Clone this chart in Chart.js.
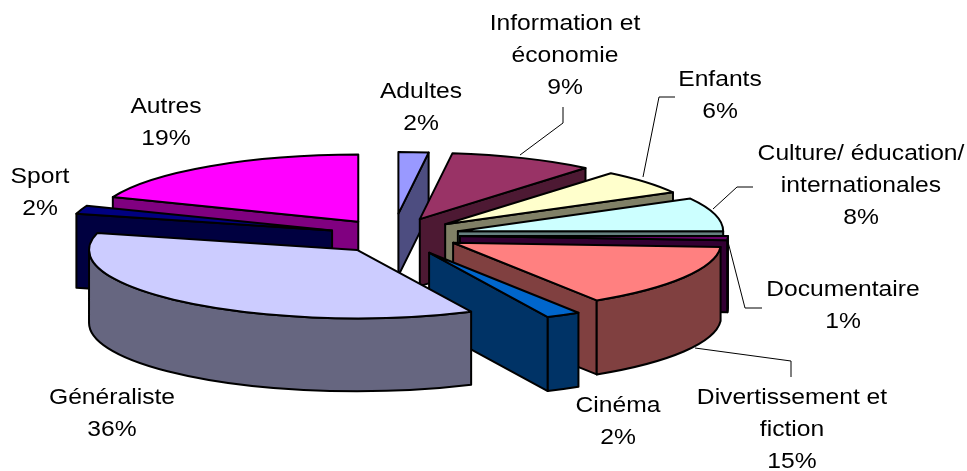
<!DOCTYPE html>
<html><head><meta charset="utf-8">
<style>html,body{margin:0;padding:0;background:#fff}#w{width:967px;height:471px}</style>
<script src="https://cdn.jsdelivr.net/npm/chart.js@4"></script></head>
<body><div id="w"><canvas id="c"></canvas></div>
<script>
const categories = ["Adultes","Information et économie","Enfants","Culture/ éducation/ internationales","Documentaire","Divertissement et fiction","Cinéma","Généraliste","Sport","Autres"];
const values = [2,9,6,8,1,15,2,36,2,19];
const colors = ["#9999FF","#993366","#FFFFCC","#CCFFFF","#660066","#FF8080","#0066CC","#CCCCFF","#000080","#FF00FF"];
const walls  = ["#4D4D80","#4D1933","#808066","#668080","#330033","#804040","#003366","#666680","#000040","#800080"];
const explode = [86,70,69,68,68,71,77,58,63,60];
const nudgeX = [1,0,0,0,0,0,0,2,0,0];
const nudgeY = [0,0,0,0,0,-2,0,3,0,-1];
const radiusScale = [0.9,0.97,0.97,0.99,1,1,1.04,1,0.985,0.985];
const depths = [62,67,70,72,72,74,74,73,74,70];
const drawOrder = [9,0,1,2,3,4,5,8,6,7];
const labelLines = [["Adultes"],["Information et","économie"],["Enfants"],["Culture/ éducation/","internationales"],["Documentaire"],["Divertissement et","fiction"],["Cinéma"],["Généraliste"],["Sport"],["Autres"]];
const labelCenters = [[421,92],[565,24],[720,80],[861,154],[843,290],[792,398],[618,406],[112,398],[40,177],[166,107]];
const leaders = [null,[[563,107],[563,123],[520,155]],[[675,97],[659,97],[643,177]],[[753,187],[737,187],[713,209]],[[762,308],[745,308],[727,238]],[[791,377],[791,361],[695,348]],null,null,null,null];
const TILT = 0.255, EDGE = 2, FONT_STRETCH = 1.12;

const pie3d = {
  id:'pie3d',
  beforeDatasetsDraw(chart){
    const ctx = chart.ctx, arcs = chart.getDatasetMeta(0).data;
    const base = (a,i)=>{
      const mid=(a.startAngle+a.endAngle)/2, e=explode[i];
      return {x:a.x+Math.cos(mid)*e+nudgeX[i], y:a.y+Math.sin(mid)*e*TILT+nudgeY[i]};
    };
    const pathArc=(p,r,from,to,dy,ccw)=>ctx.ellipse(p.x,p.y+dy,r,r*TILT,0,from,to,!!ccw);
    const pt=(p,r,ang,dy)=>[p.x+Math.cos(ang)*r,p.y+Math.sin(ang)*r*TILT+dy];
    const finish=(fill)=>{ctx.fillStyle=fill;ctx.fill();ctx.lineWidth=EDGE;ctx.strokeStyle='#000';ctx.lineJoin='round';ctx.stroke();};
    drawOrder.forEach(i=>{
      const a=arcs[i], p=base(a,i), d=depths[i], f=radiusScale[i], r=a.outerRadius*f, s=a.startAngle, e=a.endAngle;
      const quad=(ang)=>{
        const q=pt(p,r,ang,0), q2=pt(p,r,ang,d);
        ctx.beginPath();ctx.moveTo(p.x,p.y);ctx.lineTo(q[0],q[1]);ctx.lineTo(q2[0],q2[1]);ctx.lineTo(p.x,p.y+d);ctx.closePath();finish(walls[i]);
      };
      if(Math.cos(s)<-1e-6) quad(s);
      if(Math.cos(e)>1e-6) quad(e);
      const lo=Math.max(s,0), hi=Math.min(e,Math.PI);
      const lo2=Math.max(s,2*Math.PI), hi2=Math.min(e,3*Math.PI);
      [[lo,hi],[lo2,hi2]].forEach(([g,t])=>{
        if(t<=g) return;
        ctx.beginPath();pathArc(p,r,g,t,0);pathArc(p,r,t,g,d,true);ctx.closePath();finish(walls[i]);
      });
      ctx.save();
      ctx.translate(p.x,p.y);ctx.scale(f,TILT*f);ctx.translate(-a.x,-a.y);
      a.draw(ctx);
      ctx.restore();
      ctx.beginPath();ctx.moveTo(p.x,p.y);pathArc(p,r,s,e,0);ctx.closePath();
      ctx.lineWidth=EDGE;ctx.strokeStyle='#000';ctx.lineJoin='round';ctx.stroke();
    });
    return false;
  },
  afterDraw(chart){
    const ctx=chart.ctx;
    ctx.save();
    ctx.strokeStyle='#000';ctx.lineWidth=1;
    leaders.forEach(l=>{ if(!l) return; ctx.beginPath();l.forEach((q,j)=>j?ctx.lineTo(q[0],q[1]):ctx.moveTo(q[0],q[1]));ctx.stroke();});
    ctx.fillStyle='#000';ctx.font='22px "Liberation Sans"';ctx.textAlign='center';ctx.textBaseline='middle';
    categories.forEach((c,i)=>{
      const lines=[...labelLines[i],values[i]+'%'], [x,y]=labelCenters[i];
      lines.forEach((t,j)=>{
        ctx.save();ctx.translate(x,y+j*32);ctx.scale(FONT_STRETCH,1);ctx.fillText(t,0,0);ctx.restore();
      });
    });
    ctx.restore();
  }
};

new Chart(document.getElementById('c'),{
  type:'pie',
  data:{labels:categories,datasets:[{data:values,backgroundColor:colors,borderWidth:0,radius:268}]},
  options:{responsive:true,maintainAspectRatio:false,animation:false,
    layout:{padding:{right:183}},
    plugins:{legend:{display:false},tooltip:{enabled:false}}},
  plugins:[pie3d]
});
</script></body></html>
